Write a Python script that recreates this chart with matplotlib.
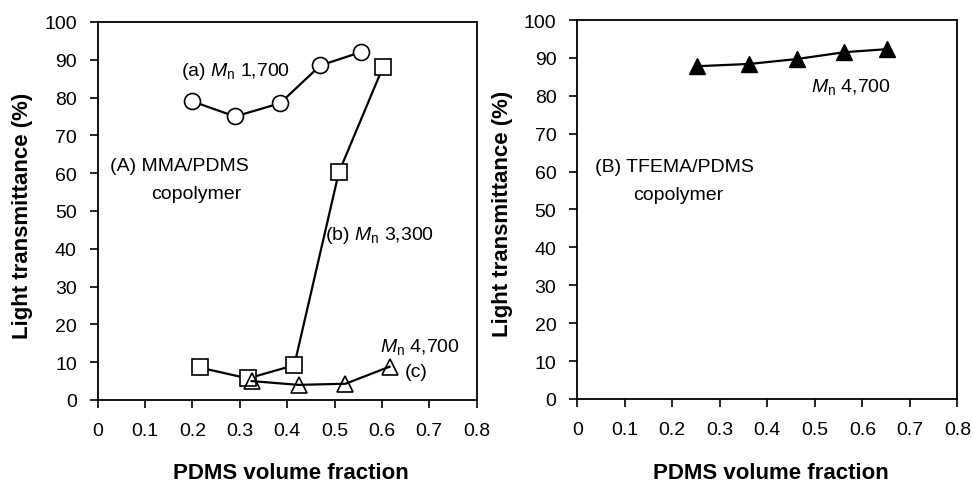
import matplotlib
matplotlib.use("Agg")
import matplotlib.pyplot as plt
from matplotlib.ticker import FuncFormatter

plt.rcParams['font.family'] = ['Liberation Sans', 'DejaVu Sans']
plt.rcParams['mathtext.fontset'] = 'custom'
plt.rcParams['mathtext.it'] = 'Liberation Sans:italic'
plt.rcParams['mathtext.rm'] = 'Liberation Sans'

# (A) MMA/PDMS copolymer
a_x = [0.20, 0.29, 0.385, 0.47, 0.555]
a_y = [79, 75, 78.5, 88.5, 92]
b_x = [0.215, 0.317, 0.415, 0.509, 0.602]
b_y = [8.6, 5.7, 9.2, 60.2, 88]
c_x = [0.325, 0.424, 0.523, 0.616]
c_y = [5.0, 4.0, 4.3, 8.8]

# (B) TFEMA/PDMS copolymer
t_x = [0.251, 0.362, 0.462, 0.562, 0.651]
t_y = [87.8, 88.4, 89.7, 91.5, 92.3]

x_ticks = [0, 0.1, 0.2, 0.3, 0.4, 0.5, 0.6, 0.7, 0.8]
y_ticks = [0, 10, 20, 30, 40, 50, 60, 70, 80, 90, 100]

fig = plt.figure(figsize=(9.73, 4.85), dpi=100)
ax1 = fig.add_axes([0.1004, 0.1732, 0.3895, 0.7794])
ax2 = fig.add_axes([0.5933, 0.1753, 0.3906, 0.7814])

fmt = FuncFormatter(lambda v, p: "0" if v == 0 else "%g" % v)

for ax in (ax1, ax2):
    ax.set_xlim(0, 0.8)
    ax.set_ylim(0, 100)
    ax.set_xticks(x_ticks)
    ax.set_yticks(y_ticks)
    ax.xaxis.set_major_formatter(fmt)
    ax.tick_params(direction='out', length=6, width=1.2, labelsize=14, colors='black')
    ax.tick_params(axis='x', pad=10)
    ax.tick_params(axis='y', pad=9)
    for s in ax.spines.values():
        s.set_linewidth(1.3)
    ax.set_xlabel('PDMS volume fraction', fontsize=16, fontweight='bold')
    ax.set_ylabel('Light transmittance (%)', fontsize=16, fontweight='bold')
    ax.xaxis.set_label_coords(0.51, -0.165)
    ax.yaxis.set_label_coords(-0.17, 0.49)

ms = 11.5
ax1.plot(a_x, a_y, color='black', lw=1.6, marker='o', ms=ms, mfc='white', mec='black', mew=1.2)
ax1.plot(b_x, b_y, color='black', lw=1.6, marker='s', ms=ms, mfc='white', mec='black', mew=1.2)
ax1.plot(c_x, c_y, color='black', lw=1.6, marker='^', ms=ms, mfc='none', mec='black', mew=1.2)

fs = 14
ax1.text(0.29, 87.2, r'(a) $M_\mathrm{n}$ 1,700', fontsize=fs, ha='center', va='center')
ax1.text(0.026, 62, '(A) MMA/PDMS', fontsize=fs, ha='left', va='center')
ax1.text(0.2085, 54.5, 'copolymer', fontsize=fs, ha='center', va='center')
ax1.text(0.48, 43.7, r'(b) $M_\mathrm{n}$ 3,300', fontsize=fs, ha='left', va='center')
ax1.text(0.596, 14.2, r'$M_\mathrm{n}$ 4,700', fontsize=fs, ha='left', va='center')
ax1.text(0.649, 7.5, '(c)', fontsize=fs, ha='left', va='center')

ax2.plot(t_x, t_y, color='black', lw=1.6, marker='^', ms=ms, mfc='black', mec='black', mew=1.0)
ax2.text(0.493, 82.7, r'$M_\mathrm{n}$ 4,700', fontsize=fs, ha='left', va='center')
ax2.text(0.037, 61.3, '(B) TFEMA/PDMS', fontsize=fs, ha='left', va='center')
ax2.text(0.212, 54, 'copolymer', fontsize=fs, ha='center', va='center')

fig.savefig('out.png', dpi=100)
